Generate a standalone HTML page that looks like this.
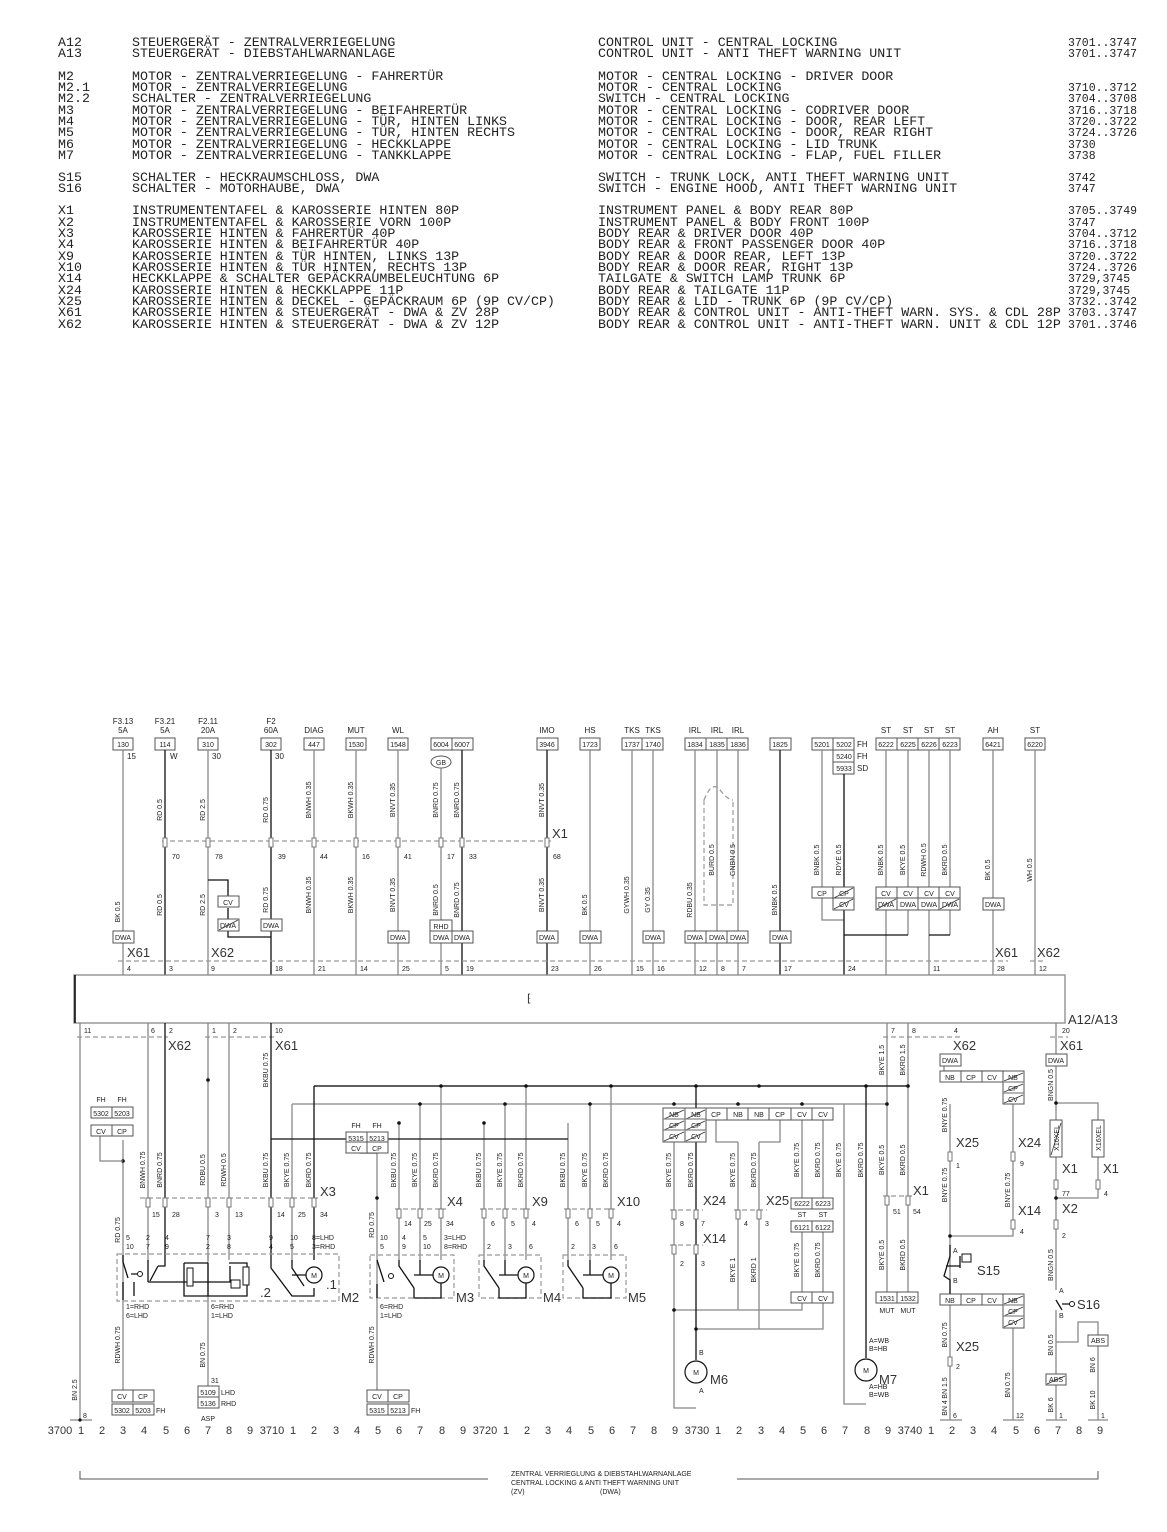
<!DOCTYPE html>
<html><head><meta charset="utf-8"><style>
html,body{margin:0;padding:0;background:#fff}
svg{display:block}
text{font-family:"Liberation Sans",sans-serif;font-size:8px;fill:#222}
.lg text{font-family:"Liberation Mono",monospace;font-size:13.3px;fill:#222}
.pg text{font-family:"Liberation Mono",monospace;font-size:11.5px;fill:#222}
.s,.s text{font-size:7px}
.b,.b text{font-size:13px;fill:#333}
.n,.n text{font-size:11px;fill:#333}
.g{stroke:#888;stroke-width:1.3;fill:none}
.k{stroke:#111;stroke-width:1.3;fill:none}
.d{stroke:#999;stroke-width:1.2;fill:none;stroke-dasharray:5 3}
.bx{stroke:#555;stroke-width:1;fill:#fff}
</style></head><body>
<svg width="1167" height="1532" viewBox="0 0 1167 1532" xmlns="http://www.w3.org/2000/svg">
<!-- LEGEND -->
<g class="lg">
<text x="58" y="46">A12</text><text x="132" y="46">STEUERGERÄT - ZENTRALVERRIEGELUNG</text><text x="598" y="46">CONTROL UNIT - CENTRAL LOCKING</text>
<text x="58" y="57">A13</text><text x="132" y="57">STEUERGERÄT - DIEBSTAHLWARNANLAGE</text><text x="598" y="57">CONTROL UNIT - ANTI THEFT WARNING UNIT</text>
<text x="58" y="80">M2</text><text x="132" y="80">MOTOR - ZENTRALVERRIEGELUNG - FAHRERTÜR</text><text x="598" y="80">MOTOR - CENTRAL LOCKING - DRIVER DOOR</text>
<text x="58" y="91">M2.1</text><text x="132" y="91">MOTOR - ZENTRALVERRIEGELUNG</text><text x="598" y="91">MOTOR - CENTRAL LOCKING</text>
<text x="58" y="102">M2.2</text><text x="132" y="102">SCHALTER - ZENTRALVERRIEGELUNG</text><text x="598" y="102">SWITCH - CENTRAL LOCKING</text>
<text x="58" y="114">M3</text><text x="132" y="114">MOTOR - ZENTRALVERRIEGELUNG - BEIFAHRERTÜR</text><text x="598" y="114">MOTOR - CENTRAL LOCKING - CODRIVER DOOR</text>
<text x="58" y="125">M4</text><text x="132" y="125">MOTOR - ZENTRALVERRIEGELUNG - TÜR, HINTEN LINKS</text><text x="598" y="125">MOTOR - CENTRAL LOCKING - DOOR, REAR LEFT</text>
<text x="58" y="136">M5</text><text x="132" y="136">MOTOR - ZENTRALVERRIEGELUNG - TÜR, HINTEN RECHTS</text><text x="598" y="136">MOTOR - CENTRAL LOCKING - DOOR, REAR RIGHT</text>
<text x="58" y="148">M6</text><text x="132" y="148">MOTOR - ZENTRALVERRIEGELUNG - HECKKLAPPE</text><text x="598" y="148">MOTOR - CENTRAL LOCKING - LID TRUNK</text>
<text x="58" y="159">M7</text><text x="132" y="159">MOTOR - ZENTRALVERRIEGELUNG - TANKKLAPPE</text><text x="598" y="159">MOTOR - CENTRAL LOCKING - FLAP, FUEL FILLER</text>
<text x="58" y="181">S15</text><text x="132" y="181">SCHALTER - HECKRAUMSCHLOSS, DWA</text><text x="598" y="181">SWITCH - TRUNK LOCK, ANTI THEFT WARNING UNIT</text>
<text x="58" y="192">S16</text><text x="132" y="192">SCHALTER - MOTORHAUBE, DWA</text><text x="598" y="192">SWITCH - ENGINE HOOD, ANTI THEFT WARNING UNIT</text>
<text x="58" y="214">X1</text><text x="132" y="214">INSTRUMENTENTAFEL &amp; KAROSSERIE HINTEN 80P</text><text x="598" y="214">INSTRUMENT PANEL &amp; BODY REAR 80P</text>
<text x="58" y="226">X2</text><text x="132" y="226">INSTRUMENTENTAFEL &amp; KAROSSERIE VORN 100P</text><text x="598" y="226">INSTRUMENT PANEL &amp; BODY FRONT 100P</text>
<text x="58" y="237">X3</text><text x="132" y="237">KAROSSERIE HINTEN &amp; FAHRERTÜR 40P</text><text x="598" y="237">BODY REAR &amp; DRIVER DOOR 40P</text>
<text x="58" y="248">X4</text><text x="132" y="248">KAROSSERIE HINTEN &amp; BEIFAHRERTÜR 40P</text><text x="598" y="248">BODY REAR &amp; FRONT PASSENGER DOOR 40P</text>
<text x="58" y="260">X9</text><text x="132" y="260">KAROSSERIE HINTEN &amp; TÜR HINTEN, LINKS 13P</text><text x="598" y="260">BODY REAR &amp; DOOR REAR, LEFT 13P</text>
<text x="58" y="271">X10</text><text x="132" y="271">KAROSSERIE HINTEN &amp; TÜR HINTEN, RECHTS 13P</text><text x="598" y="271">BODY REAR &amp; DOOR REAR, RIGHT 13P</text>
<text x="58" y="282">X14</text><text x="132" y="282">HECKKLAPPE &amp; SCHALTER GEPÄCKRAUMBELEUCHTUNG 6P</text><text x="598" y="282">TAILGATE &amp; SWITCH LAMP TRUNK 6P</text>
<text x="58" y="294">X24</text><text x="132" y="294">KAROSSERIE HINTEN &amp; HECKKLAPPE 11P</text><text x="598" y="294">BODY REAR &amp; TAILGATE 11P</text>
<text x="58" y="305">X25</text><text x="132" y="305">KAROSSERIE HINTEN &amp; DECKEL - GEPÄCKRAUM 6P (9P CV/CP)</text><text x="598" y="305">BODY REAR &amp; LID - TRUNK 6P (9P CV/CP)</text>
<text x="58" y="316">X61</text><text x="132" y="316">KAROSSERIE HINTEN &amp; STEUERGERÄT - DWA &amp; ZV 28P</text><text x="598" y="316">BODY REAR &amp; CONTROL UNIT - ANTI-THEFT WARN. SYS. &amp; CDL 28P</text>
<text x="58" y="328">X62</text><text x="132" y="328">KAROSSERIE HINTEN &amp; STEUERGERÄT - DWA &amp; ZV 12P</text><text x="598" y="328">BODY REAR &amp; CONTROL UNIT - ANTI-THEFT WARN. UNIT &amp; CDL 12P</text>
</g>
<g class="pg">
<text x="1068" y="46">3701..3747</text><text x="1068" y="57">3701..3747</text>
<text x="1068" y="91">3710..3712</text><text x="1068" y="102">3704..3708</text><text x="1068" y="114">3716..3718</text><text x="1068" y="125">3720..3722</text><text x="1068" y="136">3724..3726</text><text x="1068" y="148">3730</text><text x="1068" y="159">3738</text>
<text x="1068" y="181">3742</text><text x="1068" y="192">3747</text>
<text x="1068" y="214">3705..3749</text><text x="1068" y="226">3747</text><text x="1068" y="237">3704..3712</text><text x="1068" y="248">3716..3718</text><text x="1068" y="260">3720..3722</text><text x="1068" y="271">3724..3726</text><text x="1068" y="282">3729,3745</text><text x="1068" y="294">3729,3745</text><text x="1068" y="305">3732..3742</text><text x="1068" y="316">3703..3747</text><text x="1068" y="328">3701..3746</text>
</g>

<!-- TOP FUSE LABELS & BOXES -->
<g text-anchor="middle">
<text x="123" y="724">F3.13</text><text x="123" y="733">5A</text>
<text x="165" y="724">F3.21</text><text x="165" y="733">5A</text>
<text x="208" y="724">F2.11</text><text x="208" y="733">20A</text>
<text x="271" y="724">F2</text><text x="271" y="733">60A</text>
<text x="314" y="733">DIAG</text><text x="356" y="733">MUT</text><text x="398" y="733">WL</text><text x="547" y="733">IMO</text>
<text x="590" y="733">HS</text><text x="632" y="733">TKS</text><text x="653" y="733">TKS</text>
<text x="695" y="733">IRL</text><text x="717" y="733">IRL</text><text x="738" y="733">IRL</text>
<text x="886" y="733">ST</text><text x="908" y="733">ST</text><text x="929" y="733">ST</text><text x="950" y="733">ST</text>
<text x="993" y="733">AH</text><text x="1035" y="733">ST</text>
</g>
<g>
<rect class="bx" x="113" y="738" width="20" height="12"/><rect class="bx" x="155" y="738" width="20" height="12"/><rect class="bx" x="198" y="738" width="20" height="12"/><rect class="bx" x="261" y="738" width="20" height="12"/><rect class="bx" x="304" y="738" width="20" height="12"/><rect class="bx" x="346" y="738" width="20" height="12"/><rect class="bx" x="388" y="738" width="20" height="12"/><rect class="bx" x="431" y="738" width="21" height="12"/><rect class="bx" x="452" y="738" width="21" height="12"/><rect class="bx" x="537" y="738" width="21" height="12"/><rect class="bx" x="580" y="738" width="20" height="12"/><rect class="bx" x="622" y="738" width="20" height="12"/><rect class="bx" x="642" y="738" width="21" height="12"/><rect class="bx" x="685" y="738" width="21" height="12"/><rect class="bx" x="706" y="738" width="21" height="12"/><rect class="bx" x="727" y="738" width="21" height="12"/><rect class="bx" x="770" y="738" width="21" height="12"/><rect class="bx" x="812" y="738" width="21" height="12"/><rect class="bx" x="833" y="738" width="21" height="12"/><rect class="bx" x="833" y="750" width="21" height="12"/><rect class="bx" x="833" y="762" width="21" height="12"/><rect class="bx" x="876" y="738" width="21" height="12"/><rect class="bx" x="897" y="738" width="21" height="12"/><rect class="bx" x="918" y="738" width="21" height="12"/><rect class="bx" x="939" y="738" width="21" height="12"/><rect class="bx" x="983" y="738" width="20" height="12"/><rect class="bx" x="1025" y="738" width="20" height="12"/>
</g>
<g text-anchor="middle" class="s">
<text x="123" y="747">130</text><text x="165" y="747">114</text><text x="208" y="747">310</text><text x="271" y="747">302</text><text x="314" y="747">447</text><text x="356" y="747">1530</text><text x="398" y="747">1548</text><text x="441" y="747">6004</text><text x="462" y="747">6007</text><text x="547" y="747">3946</text><text x="590" y="747">1723</text><text x="632" y="747">1737</text><text x="653" y="747">1740</text><text x="695" y="747">1834</text><text x="717" y="747">1835</text><text x="738" y="747">1836</text><text x="780" y="747">1825</text><text x="822" y="747">5201</text><text x="844" y="747">5202</text><text x="844" y="759">5240</text><text x="844" y="771">5933</text><text x="886" y="747">6222</text><text x="908" y="747">6225</text><text x="929" y="747">6226</text><text x="950" y="747">6223</text><text x="993" y="747">6421</text><text x="1035" y="747">6220</text>
</g>
<text x="857" y="747">FH</text><text x="857" y="759">FH</text><text x="857" y="771">SD</text>
<text x="127" y="759">15</text><text x="170" y="759">W</text><text x="212" y="759">30</text><text x="275" y="759">30</text>
<ellipse cx="441" cy="762" rx="10" ry="6" class="bx"/><text x="441" y="765" text-anchor="middle" class="s">GB</text>

<!-- UPPER WIRES -->
<g class="g">
<path d="M123 750V975M208 750V975M314 750V975M356 750V975M398 750V975M441 768V975M590 750V975M632 750V975M653 750V975M695 750V975M717 750V975M738 750V975M822 750V920H844M886 750V975M908 750V935M993 750V975M1035 750V975M929 750V975M950 750V935"/>
</g>
<g class="k">
<path d="M165 750V975M271 750V975M462 750V975M547 750V975M780 750V975M844 774V975M844 935H908M929 935H950M208 880H228V897M228 908V937H271"/>
</g>
<path class="d" d="M704 800V905H733V800M704 800Q712 780 720 790Q728 800 733 800"/>
<path class="d" d="M162 841H552M118 961H1008M1030 961H1045"/>
<text class="b" x="552" y="838">X1</text>
<text class="b" x="127" y="957">X61</text><text class="b" x="211" y="957">X62</text><text class="b" x="995" y="957">X61</text><text class="b" x="1037" y="957">X62</text>
<g fill="#fff" stroke="#777" stroke-width="1">
<rect x="163" y="838" width="4" height="9"/><rect x="206" y="838" width="4" height="9"/><rect x="269" y="838" width="4" height="9"/><rect x="312" y="838" width="4" height="9"/><rect x="354" y="838" width="4" height="9"/><rect x="396" y="838" width="4" height="9"/><rect x="439" y="838" width="4" height="9"/><rect x="460" y="838" width="4" height="9"/><rect x="545" y="838" width="4" height="9"/>
</g>
<g class="s">
<text x="172" y="859">70</text><text x="215" y="859">78</text><text x="278" y="859">39</text><text x="320" y="859">44</text><text x="362" y="859">16</text><text x="404" y="859">41</text><text x="447" y="859">17</text><text x="469" y="859">33</text><text x="553" y="859">68</text>
<text x="127" y="971">4</text><text x="169" y="971">3</text><text x="211" y="971">9</text><text x="275" y="971">18</text><text x="318" y="971">21</text><text x="360" y="971">14</text><text x="402" y="971">25</text><text x="445" y="971">5</text><text x="466" y="971">19</text><text x="551" y="971">23</text><text x="594" y="971">26</text><text x="636" y="971">15</text><text x="657" y="971">16</text><text x="699" y="971">12</text><text x="721" y="971">8</text><text x="742" y="971">7</text><text x="784" y="971">17</text><text x="848" y="971">24</text><text x="933" y="971">11</text><text x="997" y="971">28</text><text x="1039" y="971">12</text>
</g>
<!-- DWA boxes upper -->
<g>
<rect class="bx" x="113" y="931" width="21" height="12"/><rect class="bx" x="388" y="931" width="21" height="12"/><rect class="bx" x="430" y="931" width="22" height="12"/><rect class="bx" x="430" y="920" width="22" height="11"/><rect class="bx" x="452" y="931" width="21" height="12"/><rect class="bx" x="537" y="931" width="21" height="12"/><rect class="bx" x="580" y="931" width="21" height="12"/><rect class="bx" x="643" y="931" width="21" height="12"/><rect class="bx" x="685" y="931" width="21" height="12"/><rect class="bx" x="706" y="931" width="21" height="12"/><rect class="bx" x="727" y="931" width="21" height="12"/><rect class="bx" x="770" y="931" width="21" height="12"/><rect class="bx" x="261" y="919" width="21" height="12"/><rect class="bx" x="218" y="896" width="21" height="11"/><rect class="bx" x="218" y="919" width="21" height="12"/><rect class="bx" x="983" y="898" width="21" height="12"/>
<rect class="bx" x="812" y="887" width="21" height="11"/><rect class="bx" x="833" y="887" width="21" height="11"/><rect class="bx" x="833" y="898" width="21" height="12"/>
<rect class="bx" x="876" y="887" width="21" height="11"/><rect class="bx" x="897" y="887" width="21" height="11"/><rect class="bx" x="918" y="887" width="21" height="11"/><rect class="bx" x="939" y="887" width="21" height="11"/><rect class="bx" x="876" y="898" width="21" height="12"/><rect class="bx" x="897" y="898" width="21" height="12"/><rect class="bx" x="918" y="898" width="21" height="12"/><rect class="bx" x="939" y="898" width="21" height="12"/>
</g>
<g text-anchor="middle" class="s">
<text x="123" y="940">DWA</text><text x="398" y="940">DWA</text><text x="441" y="940">DWA</text><text x="441" y="929">RHD</text><text x="462" y="940">DWA</text><text x="547" y="940">DWA</text><text x="590" y="940">DWA</text><text x="653" y="940">DWA</text><text x="695" y="940">DWA</text><text x="717" y="940">DWA</text><text x="738" y="940">DWA</text><text x="780" y="940">DWA</text><text x="271" y="928">DWA</text><text x="228" y="905">CV</text><text x="228" y="928">DWA</text><text x="993" y="907">DWA</text>
<text x="822" y="896">CP</text><text x="844" y="896">CP</text><text x="844" y="907">CV</text>
<text x="886" y="896">CV</text><text x="908" y="896">CV</text><text x="929" y="896">CV</text><text x="950" y="896">CV</text><text x="886" y="907">DWA</text><text x="908" y="907">DWA</text><text x="929" y="907">DWA</text><text x="950" y="907">DWA</text>
</g>
<path stroke="#333" stroke-width="0.8" d="M219 930L238 920M834 898L853 888M834 909L853 899M877 909L896 899M940 909L959 899"/>
<!-- upper rotated wire labels -->
<g class="s">
<text transform="translate(162,810) rotate(-90)" text-anchor="middle">RD 0.5</text>
<text transform="translate(205,810) rotate(-90)" text-anchor="middle">RD 2.5</text>
<text transform="translate(268,810) rotate(-90)" text-anchor="middle">RD 0.75</text>
<text transform="translate(311,800) rotate(-90)" text-anchor="middle">BNWH 0.35</text>
<text transform="translate(353,800) rotate(-90)" text-anchor="middle">BKWH 0.35</text>
<text transform="translate(395,800) rotate(-90)" text-anchor="middle">BNVT 0.35</text>
<text transform="translate(438,800) rotate(-90)" text-anchor="middle">BNRD 0.75</text>
<text transform="translate(459,800) rotate(-90)" text-anchor="middle">BNRD 0.75</text>
<text transform="translate(544,800) rotate(-90)" text-anchor="middle">BNVT 0.35</text>
<text transform="translate(120,912) rotate(-90)" text-anchor="middle">BK 0.5</text>
<text transform="translate(162,905) rotate(-90)" text-anchor="middle">RD 0.5</text>
<text transform="translate(205,905) rotate(-90)" text-anchor="middle">RD 2.5</text>
<text transform="translate(268,900) rotate(-90)" text-anchor="middle">RD 0.75</text>
<text transform="translate(311,895) rotate(-90)" text-anchor="middle">BNWH 0.35</text>
<text transform="translate(353,895) rotate(-90)" text-anchor="middle">BKWH 0.35</text>
<text transform="translate(395,895) rotate(-90)" text-anchor="middle">BNVT 0.35</text>
<text transform="translate(438,900) rotate(-90)" text-anchor="middle">BNRD 0.5</text>
<text transform="translate(459,900) rotate(-90)" text-anchor="middle">BNRD 0.75</text>
<text transform="translate(544,895) rotate(-90)" text-anchor="middle">BNVT 0.35</text>
<text transform="translate(587,905) rotate(-90)" text-anchor="middle">BK 0.5</text>
<text transform="translate(629,895) rotate(-90)" text-anchor="middle">GYWH 0.35</text>
<text transform="translate(650,900) rotate(-90)" text-anchor="middle">GY 0.35</text>
<text transform="translate(692,900) rotate(-90)" text-anchor="middle">RDBU 0.35</text>
<text transform="translate(714,860) rotate(-90)" text-anchor="middle">BURD 0.5</text>
<text transform="translate(735,860) rotate(-90)" text-anchor="middle">GNBN 0.5</text>
<text transform="translate(777,900) rotate(-90)" text-anchor="middle">BNBK 0.5</text>
<text transform="translate(819,860) rotate(-90)" text-anchor="middle">BNBK 0.5</text>
<text transform="translate(841,860) rotate(-90)" text-anchor="middle">RDYE 0.5</text>
<text transform="translate(883,860) rotate(-90)" text-anchor="middle">BNBK 0.5</text>
<text transform="translate(905,860) rotate(-90)" text-anchor="middle">BKYE 0.5</text>
<text transform="translate(926,860) rotate(-90)" text-anchor="middle">RDWH 0.5</text>
<text transform="translate(947,860) rotate(-90)" text-anchor="middle">BKRD 0.5</text>
<text transform="translate(990,870) rotate(-90)" text-anchor="middle">BK 0.5</text>
<text transform="translate(1032,870) rotate(-90)" text-anchor="middle">WH 0.5</text>
</g>

<!-- MODULE -->
<rect x="74" y="975" width="991" height="48" fill="#fff" stroke="#888" stroke-width="1.3"/>
<path d="M75 975V1023" stroke="#111" stroke-width="1.6"/>
<text x="527" y="1002" class="n">⁅</text>
<text class="b" x="1068" y="1024">A12/A13</text>

<!-- LOWER -->
<path class="d" d="M77 1037H168M205 1037H275M883 1037H960M1050 1037H1068"/>
<text class="b" x="168" y="1050">X62</text><text class="b" x="275" y="1050">X61</text><text class="b" x="953" y="1050">X62</text><text class="b" x="1060" y="1050">X61</text>
<g class="s"><text x="84" y="1033">11</text><text x="151" y="1033">6</text><text x="169" y="1033">2</text><text x="212" y="1033">1</text><text x="233" y="1033">2</text><text x="275" y="1033">10</text><text x="891" y="1033">7</text><text x="912" y="1033">8</text><text x="954" y="1033">4</text><text x="1062" y="1033">20</text></g>
<g class="g">
<path d="M80 1023V1420M148 1023V1260M208 1023V1260M229 1023V1260M123 1140V1255M314 1086H908M292 1104H887M292 1104V1260M399 1123V1260M420 1104V1260M441 1086V1260M484 1123V1260M505 1104V1260M526 1086V1260M568 1123V1260M590 1104V1260M611 1086V1260"/>
<path d="M123 1255V1390M208 1255V1387M377 1255V1390M377 1153V1255"/>
<path d="M674 1120V1408H696M738 1142V1310M759 1142V1329M802 1120V1198M823 1120V1198M802 1232V1292M823 1232V1292M844 1104V1404H866M887 1023V1292M908 1023V1292M716 1120V1142H738M759 1142H780V1120M674 1310H802V1302M696 1329H823V1302"/>
<path d="M950 1104V1294M1013 1104V1236H950M1013 1328V1420M950 1305V1420M1056 1023V1120M1056 1157V1290M1056 1310V1420M1056 1103H1098V1120M1098 1157V1198H1056M1056 1342H1078V1322H1098V1335M1098 1346V1420M944 1071V1062M1004 1071H944"/>
</g>
<g class="k">
<path d="M165 1023V1260M271 1023V1139H568M271 1139V1260M314 1086V1260M696 1086V1360M866 1086V1358M314 1086H908"/>
<path d="M377 1153H360V1142"/>
</g>
<g fill="#111">
<circle cx="441" cy="1086" r="1.8"/><circle cx="526" cy="1086" r="1.8"/><circle cx="611" cy="1086" r="1.8"/><circle cx="696" cy="1086" r="1.8"/><circle cx="759" cy="1086" r="1.8"/><circle cx="866" cy="1086" r="1.8"/><circle cx="908" cy="1086" r="1.8"/>
<circle cx="420" cy="1104" r="1.8"/><circle cx="505" cy="1104" r="1.8"/><circle cx="590" cy="1104" r="1.8"/><circle cx="674" cy="1104" r="1.8"/><circle cx="738" cy="1104" r="1.8"/><circle cx="802" cy="1104" r="1.8"/><circle cx="887" cy="1104" r="1.8"/>
<circle cx="399" cy="1123" r="1.8"/><circle cx="484" cy="1123" r="1.8"/><circle cx="123" cy="1161" r="1.8"/><circle cx="377" cy="1198" r="1.8"/><circle cx="208" cy="1080" r="1.8"/>
<circle cx="674" cy="1310" r="1.8"/><circle cx="696" cy="1329" r="1.8"/><circle cx="950" cy="1236" r="1.8"/><circle cx="1056" cy="1103" r="1.8"/><circle cx="1056" cy="1198" r="1.8"/>
</g>
<path class="g" d="M100 1136V1161H123"/>
<path class="d" d="M140 1198H318M395 1209H446M480 1209H530M564 1209H615M670 1210H703M734 1210H767M670 1245H703M883 1196H912"/>
<text class="b" x="320" y="1196">X3</text><text class="b" x="447" y="1206">X4</text><text class="b" x="532" y="1206">X9</text><text class="b" x="617" y="1206">X10</text><text class="b" x="703" y="1205">X24</text><text class="b" x="766" y="1205">X25</text><text class="b" x="703" y="1243">X14</text><text class="b" x="913" y="1195">X1</text>
<text class="b" x="956" y="1147">X25</text><text class="b" x="1018" y="1147">X24</text><text class="b" x="1018" y="1215">X14</text><text class="b" x="956" y="1351">X25</text><text class="b" x="1062" y="1173">X1</text><text class="b" x="1103" y="1173">X1</text><text class="b" x="1062" y="1213">X2</text>
<g fill="#fff" stroke="#777" stroke-width="1">
<rect x="146" y="1198" width="4" height="9"/><rect x="163" y="1198" width="4" height="9"/><rect x="206" y="1198" width="4" height="9"/><rect x="227" y="1198" width="4" height="9"/><rect x="269" y="1198" width="4" height="9"/><rect x="290" y="1198" width="4" height="9"/><rect x="312" y="1198" width="4" height="9"/>
<rect x="397" y="1209" width="4" height="9"/><rect x="418" y="1209" width="4" height="9"/><rect x="439" y="1209" width="4" height="9"/><rect x="482" y="1209" width="4" height="9"/><rect x="503" y="1209" width="4" height="9"/><rect x="524" y="1209" width="4" height="9"/><rect x="566" y="1209" width="4" height="9"/><rect x="588" y="1209" width="4" height="9"/><rect x="609" y="1209" width="4" height="9"/>
<rect x="672" y="1210" width="4" height="9"/><rect x="694" y="1210" width="4" height="9"/><rect x="736" y="1210" width="4" height="9"/><rect x="757" y="1210" width="4" height="9"/><rect x="672" y="1245" width="4" height="9"/><rect x="694" y="1245" width="4" height="9"/><rect x="885" y="1196" width="4" height="9"/><rect x="906" y="1196" width="4" height="9"/>
<rect x="948" y="1152" width="4" height="9"/><rect x="1011" y="1152" width="4" height="9"/><rect x="1011" y="1220" width="4" height="9"/><rect x="948" y="1357" width="4" height="9"/><rect x="1054" y="1180" width="4" height="9"/><rect x="1096" y="1180" width="4" height="9"/><rect x="1054" y="1220" width="4" height="9"/>
</g>
<g class="s">
<text x="152" y="1217">15</text><text x="172" y="1217">28</text><text x="215" y="1217">3</text><text x="235" y="1217">13</text><text x="277" y="1217">14</text><text x="298" y="1217">25</text><text x="320" y="1217">34</text>
<text x="404" y="1226">14</text><text x="424" y="1226">25</text><text x="446" y="1226">34</text><text x="491" y="1226">6</text><text x="511" y="1226">5</text><text x="532" y="1226">4</text><text x="575" y="1226">6</text><text x="596" y="1226">5</text><text x="617" y="1226">4</text>
<text x="680" y="1226">8</text><text x="701" y="1226">7</text><text x="744" y="1226">4</text><text x="765" y="1226">3</text><text x="680" y="1266">2</text><text x="701" y="1266">3</text><text x="893" y="1214">51</text><text x="913" y="1214">54</text>
<text x="956" y="1168">1</text><text x="1020" y="1166">9</text><text x="1020" y="1234">4</text><text x="956" y="1369">2</text><text x="1062" y="1196">77</text><text x="1104" y="1196">4</text><text x="1062" y="1238">2</text>
<text x="126" y="1240">5</text><text x="126" y="1249">10</text><text x="146" y="1240">2</text><text x="146" y="1249">7</text><text x="165" y="1240">4</text><text x="165" y="1249">9</text><text x="206" y="1240">7</text><text x="206" y="1249">2</text><text x="227" y="1240">3</text><text x="227" y="1249">8</text><text x="269" y="1240">9</text><text x="269" y="1249">4</text><text x="290" y="1240">10</text><text x="290" y="1249">5</text><text x="312" y="1240">8=LHD</text><text x="312" y="1249">3=RHD</text>
<text x="380" y="1240">10</text><text x="380" y="1249">5</text><text x="402" y="1240">4</text><text x="402" y="1249">9</text><text x="423" y="1240">5</text><text x="423" y="1249">10</text><text x="444" y="1240">3=LHD</text><text x="444" y="1249">8=RHD</text>
<text x="487" y="1249">2</text><text x="508" y="1249">3</text><text x="529" y="1249">6</text><text x="571" y="1249">2</text><text x="592" y="1249">3</text><text x="614" y="1249">6</text>
<text x="126" y="1309">1=RHD</text><text x="126" y="1318">6=LHD</text><text x="211" y="1309">6=RHD</text><text x="211" y="1318">1=LHD</text><text x="380" y="1309">6=RHD</text><text x="380" y="1318">1=LHD</text>
<text x="211" y="1383">31</text><text x="699" y="1355">B</text><text x="699" y="1393">A</text><text x="869" y="1343">A=WB</text><text x="869" y="1351">B=HB</text><text x="869" y="1389">A=HB</text><text x="869" y="1397">B=WB</text><text x="953" y="1253">A</text><text x="953" y="1283">B</text><text x="1059" y="1293">A</text><text x="1059" y="1318">B</text>
<text x="83" y="1418">8</text><text x="953" y="1418">6</text><text x="1016" y="1418">12</text><text x="1059" y="1418">1</text><text x="1101" y="1418">1</text>
</g>
<path class="d" d="M117 1254H339V1301H117ZM370 1255H454V1298H370ZM479 1255H541V1298H479ZM563 1255H626V1298H563Z"/>
<text class="b" x="341" y="1302">M2</text><text class="b" x="456" y="1302">M3</text><text class="b" x="543" y="1302">M4</text><text class="b" x="628" y="1302">M5</text>
<text class="b" x="260" y="1297">.2</text><text class="b" x="326" y="1289">.1</text>
<g class="k" stroke-width="1">
<path d="M123 1255V1262L128 1278M123 1282V1300M131 1274H137M165 1260V1266H158M150 1281L158 1266M148 1260V1282M148 1282H230V1266M134 1282V1296"/>
<path d="M184 1263H208M208 1263V1296M229 1263H247V1296H184V1263M292 1260V1268L304 1286M271 1260V1268L292 1296H314V1288"/>
</g>
<circle cx="140" cy="1274" r="2.5" fill="#fff" stroke="#111"/>
<rect x="187" y="1268" width="6" height="18" fill="#fff" stroke="#111"/><rect x="243" y="1267" width="6" height="18" fill="#fff" stroke="#111"/>
<rect x="231" y="1280" width="9" height="8" fill="#fff" stroke="#111"/>
<g fill="#fff" stroke="#111" stroke-width="1.2">
<circle cx="314" cy="1275" r="8"/><circle cx="441" cy="1275" r="8"/><circle cx="526" cy="1275" r="8"/><circle cx="611" cy="1275" r="8"/><circle cx="696" cy="1372" r="11"/><circle cx="866" cy="1370" r="11"/>
</g>
<g text-anchor="middle" class="s"><text x="314" y="1278">M</text><text x="441" y="1278">M</text><text x="526" y="1278">M</text><text x="611" y="1278">M</text><text x="696" y="1375">M</text><text x="866" y="1373">M</text></g>
<text class="b" x="710" y="1384">M6</text><text class="b" x="879" y="1384">M7</text>
<g class="k" stroke-width="1"><path d="M377 1260L384 1282M377 1284V1298M388 1276H394M399 1260V1266L414 1288M414 1275H433M420 1260V1275M441 1283V1298H414V1288M484 1260V1266L499 1288M499 1275H518M505 1260V1275M526 1283V1298H499V1288M568 1260V1266L583 1288M583 1275H603M590 1260V1275M611 1283V1298H583V1288M292 1275H306"/></g>
<circle cx="391" cy="1276" r="2.5" fill="#fff" stroke="#111"/>
<path class="k" stroke-width="1" d="M950 1245V1256L944 1276L950 1280V1294M946 1266H960M960 1256V1268M1056 1300L1062 1310M1062 1304H1070"/>
<rect x="962" y="1254" width="9" height="8" fill="#fff" stroke="#111"/><circle cx="1072" cy="1304" r="2.5" fill="#fff" stroke="#111"/>
<text class="b" x="977" y="1275">S15</text><text class="b" x="1077" y="1309">S16</text>

<g>
<rect class="bx" x="91" y="1107" width="21" height="11"/><rect class="bx" x="112" y="1107" width="21" height="11"/><rect class="bx" x="91" y="1125" width="21" height="11"/><rect class="bx" x="112" y="1125" width="21" height="11"/>
<rect class="bx" x="346" y="1132" width="21" height="11"/><rect class="bx" x="367" y="1132" width="21" height="11"/><rect class="bx" x="346" y="1142" width="21" height="11"/><rect class="bx" x="367" y="1142" width="21" height="11"/>
<rect class="bx" x="112" y="1390" width="21" height="12"/><rect class="bx" x="133" y="1390" width="21" height="12"/><rect class="bx" x="112" y="1404" width="21" height="11"/><rect class="bx" x="133" y="1404" width="21" height="11"/>
<rect class="bx" x="198" y="1386" width="21" height="11"/><rect class="bx" x="198" y="1397" width="21" height="11"/>
<rect class="bx" x="367" y="1390" width="21" height="12"/><rect class="bx" x="388" y="1390" width="21" height="12"/><rect class="bx" x="367" y="1404" width="21" height="11"/><rect class="bx" x="388" y="1404" width="21" height="11"/>
<rect class="bx" x="663" y="1108" width="22" height="34"/><rect class="bx" x="685" y="1108" width="21" height="34"/><rect class="bx" x="706" y="1108" width="21" height="12"/><rect class="bx" x="727" y="1108" width="21" height="12"/><rect class="bx" x="748" y="1108" width="21" height="12"/><rect class="bx" x="769" y="1108" width="22" height="12"/><rect class="bx" x="791" y="1108" width="21" height="12"/><rect class="bx" x="812" y="1108" width="21" height="12"/>
<rect class="bx" x="791" y="1198" width="21" height="11"/><rect class="bx" x="812" y="1198" width="21" height="11"/><rect class="bx" x="791" y="1221" width="21" height="11"/><rect class="bx" x="812" y="1221" width="21" height="11"/><rect class="bx" x="791" y="1292" width="21" height="11"/><rect class="bx" x="812" y="1292" width="21" height="11"/>
<rect class="bx" x="876" y="1292" width="21" height="11"/><rect class="bx" x="897" y="1292" width="21" height="11"/>
<rect class="bx" x="940" y="1054" width="21" height="12"/><rect class="bx" x="1046" y="1054" width="21" height="12"/>
<rect class="bx" x="940" y="1071" width="21" height="11"/><rect class="bx" x="961" y="1071" width="21" height="11"/><rect class="bx" x="982" y="1071" width="21" height="11"/><rect class="bx" x="1003" y="1071" width="21" height="33"/>
<rect class="bx" x="940" y="1294" width="21" height="11"/><rect class="bx" x="961" y="1294" width="21" height="11"/><rect class="bx" x="982" y="1294" width="21" height="11"/><rect class="bx" x="1003" y="1294" width="21" height="34"/>
<rect class="bx" x="1050" y="1120" width="12" height="37"/><rect class="bx" x="1092" y="1120" width="12" height="37"/>
<rect class="bx" x="1088" y="1335" width="20" height="11"/><rect class="bx" x="1046" y="1374" width="20" height="11"/>
</g>
<path stroke="#333" stroke-width="0.8" d="M664 1119L684 1110M664 1130L684 1121M664 1141L684 1132M686 1119L705 1110M686 1130L705 1121M686 1141L705 1132M1004 1081L1023 1073M1004 1092L1023 1084M1004 1103L1023 1095M1004 1304L1023 1296M1004 1316L1023 1307M1004 1327L1023 1318M1051 1155L1061 1123M1047 1384L1065 1376"/>
<path class="g" d="M663 1119H706M663 1130H706M1003 1082H1024M1003 1093H1024M1003 1305H1024M1003 1316H1024"/>
<g text-anchor="middle" class="s">
<text x="101" y="1102">FH</text><text x="122" y="1102">FH</text><text x="101" y="1116">5302</text><text x="122" y="1116">5203</text><text x="101" y="1134">CV</text><text x="122" y="1134">CP</text>
<text x="356" y="1128">FH</text><text x="377" y="1128">FH</text><text x="356" y="1141">5315</text><text x="377" y="1141">5213</text><text x="356" y="1151">CV</text><text x="377" y="1151">CP</text>
<text x="122" y="1399">CV</text><text x="143" y="1399">CP</text><text x="122" y="1413">5302</text><text x="143" y="1413">5203</text>
<text x="208" y="1395">5109</text><text x="208" y="1406">5136</text><text x="208" y="1421">ASP</text>
<text x="377" y="1399">CV</text><text x="398" y="1399">CP</text><text x="377" y="1413">5315</text><text x="398" y="1413">5213</text>
<text x="674" y="1117">NB</text><text x="696" y="1117">NB</text><text x="674" y="1128">CP</text><text x="696" y="1128">CP</text><text x="674" y="1139">CV</text><text x="696" y="1139">CV</text>
<text x="716" y="1117">CP</text><text x="738" y="1117">NB</text><text x="759" y="1117">NB</text><text x="780" y="1117">CP</text><text x="802" y="1117">CV</text><text x="823" y="1117">CV</text>
<text x="802" y="1206">6222</text><text x="823" y="1206">6223</text><text x="802" y="1217">ST</text><text x="823" y="1217">ST</text><text x="802" y="1230">6121</text><text x="823" y="1230">6122</text><text x="802" y="1301">CV</text><text x="823" y="1301">CV</text>
<text x="887" y="1301">1531</text><text x="908" y="1301">1532</text><text x="887" y="1313">MUT</text><text x="908" y="1313">MUT</text>
<text x="950" y="1063">DWA</text><text x="1056" y="1063">DWA</text>
<text x="950" y="1080">NB</text><text x="971" y="1080">CP</text><text x="992" y="1080">CV</text><text x="1013" y="1080">NB</text><text x="1013" y="1091">CP</text><text x="1013" y="1102">CV</text>
<text x="950" y="1303">NB</text><text x="971" y="1303">CP</text><text x="992" y="1303">CV</text><text x="1013" y="1303">NB</text><text x="1013" y="1314">CP</text><text x="1013" y="1325">CV</text>
<text x="1098" y="1343">ABS</text><text x="1056" y="1382">ABS</text>
</g>
<text x="156" y="1413" class="s">FH</text><text x="221" y="1395" class="s">LHD</text><text x="221" y="1406" class="s">RHD</text><text x="411" y="1413" class="s">FH</text>
<g class="s">
<text transform="translate(1059,1138) rotate(-90)" text-anchor="middle">X16XEL</text>
<text transform="translate(1101,1138) rotate(-90)" text-anchor="middle">X16XEL</text>
</g>
<g class="s">
<text transform="translate(77,1390) rotate(-90)" text-anchor="middle">BN 2.5</text>
<text transform="translate(120,1230) rotate(-90)" text-anchor="middle">RD 0.75</text>
<text transform="translate(120,1345) rotate(-90)" text-anchor="middle">RDWH 0.75</text>
<text transform="translate(145,1170) rotate(-90)" text-anchor="middle">BNWH 0.75</text>
<text transform="translate(162,1170) rotate(-90)" text-anchor="middle">BNRD 0.75</text>
<text transform="translate(205,1170) rotate(-90)" text-anchor="middle">RDBU 0.5</text>
<text transform="translate(226,1170) rotate(-90)" text-anchor="middle">RDWH 0.5</text>
<text transform="translate(268,1070) rotate(-90)" text-anchor="middle">BKBU 0.75</text>
<text transform="translate(268,1170) rotate(-90)" text-anchor="middle">BKBU 0.75</text>
<text transform="translate(289,1170) rotate(-90)" text-anchor="middle">BKYE 0.75</text>
<text transform="translate(311,1170) rotate(-90)" text-anchor="middle">BKRD 0.75</text>
<text transform="translate(205,1355) rotate(-90)" text-anchor="middle">BN 0.75</text>
<text transform="translate(374,1225) rotate(-90)" text-anchor="middle">RD 0.75</text>
<text transform="translate(374,1345) rotate(-90)" text-anchor="middle">RDWH 0.75</text>
<text transform="translate(396,1170) rotate(-90)" text-anchor="middle">BKBU 0.75</text>
<text transform="translate(417,1170) rotate(-90)" text-anchor="middle">BKYE 0.75</text>
<text transform="translate(438,1170) rotate(-90)" text-anchor="middle">BKRD 0.75</text>
<text transform="translate(481,1170) rotate(-90)" text-anchor="middle">BKBU 0.75</text>
<text transform="translate(502,1170) rotate(-90)" text-anchor="middle">BKYE 0.75</text>
<text transform="translate(523,1170) rotate(-90)" text-anchor="middle">BKRD 0.75</text>
<text transform="translate(565,1170) rotate(-90)" text-anchor="middle">BKBU 0.75</text>
<text transform="translate(587,1170) rotate(-90)" text-anchor="middle">BKYE 0.75</text>
<text transform="translate(608,1170) rotate(-90)" text-anchor="middle">BKRD 0.75</text>
<text transform="translate(671,1170) rotate(-90)" text-anchor="middle">BKYE 0.75</text>
<text transform="translate(693,1170) rotate(-90)" text-anchor="middle">BKRD 0.75</text>
<text transform="translate(735,1170) rotate(-90)" text-anchor="middle">BKYE 0.75</text>
<text transform="translate(756,1170) rotate(-90)" text-anchor="middle">BKRD 0.75</text>
<text transform="translate(735,1270) rotate(-90)" text-anchor="middle">BKYE 1</text>
<text transform="translate(756,1270) rotate(-90)" text-anchor="middle">BKRD 1</text>
<text transform="translate(799,1160) rotate(-90)" text-anchor="middle">BKYE 0.75</text>
<text transform="translate(820,1160) rotate(-90)" text-anchor="middle">BKRD 0.75</text>
<text transform="translate(799,1260) rotate(-90)" text-anchor="middle">BKYE 0.75</text>
<text transform="translate(820,1260) rotate(-90)" text-anchor="middle">BKRD 0.75</text>
<text transform="translate(841,1160) rotate(-90)" text-anchor="middle">BKYE 0.75</text>
<text transform="translate(863,1160) rotate(-90)" text-anchor="middle">BKRD 0.75</text>
<text transform="translate(884,1060) rotate(-90)" text-anchor="middle">BKYE 1.5</text>
<text transform="translate(905,1060) rotate(-90)" text-anchor="middle">BKRD 1.5</text>
<text transform="translate(884,1160) rotate(-90)" text-anchor="middle">BKYE 0.5</text>
<text transform="translate(905,1160) rotate(-90)" text-anchor="middle">BKRD 0.5</text>
<text transform="translate(884,1255) rotate(-90)" text-anchor="middle">BKYE 0.5</text>
<text transform="translate(905,1255) rotate(-90)" text-anchor="middle">BKRD 0.5</text>
<text transform="translate(947,1115) rotate(-90)" text-anchor="middle">BNYE 0.75</text>
<text transform="translate(947,1185) rotate(-90)" text-anchor="middle">BNYE 0.75</text>
<text transform="translate(1010,1190) rotate(-90)" text-anchor="middle">BNYE 0.75</text>
<text transform="translate(947,1335) rotate(-90)" text-anchor="middle">BN 0.75</text>
<text transform="translate(947,1388) rotate(-90)" text-anchor="middle">BN 1.5</text>
<text transform="translate(947,1408) rotate(-90)" text-anchor="middle">BN 4</text>
<text transform="translate(1010,1385) rotate(-90)" text-anchor="middle">BN 0.75</text>
<text transform="translate(1053,1085) rotate(-90)" text-anchor="middle">BNGN 0.5</text>
<text transform="translate(1053,1265) rotate(-90)" text-anchor="middle">BNGN 0.5</text>
<text transform="translate(1053,1345) rotate(-90)" text-anchor="middle">BN 0.5</text>
<text transform="translate(1053,1405) rotate(-90)" text-anchor="middle">BK 6</text>
<text transform="translate(1095,1365) rotate(-90)" text-anchor="middle">BN 6</text>
<text transform="translate(1095,1400) rotate(-90)" text-anchor="middle">BK 10</text>
</g>
<path class="g" d="M70 1420H92M940 1420H962M1003 1420H1024M1046 1420H1067M1088 1420H1108"/>
<circle cx="80" cy="1420" r="1.6" fill="#111"/>

<g class="n" text-anchor="middle">
<text x="60" y="1434">3700</text>
<text x="81" y="1434">1</text><text x="102" y="1434">2</text><text x="123" y="1434">3</text><text x="144" y="1434">4</text><text x="166" y="1434">5</text><text x="187" y="1434">6</text><text x="208" y="1434">7</text><text x="229" y="1434">8</text><text x="250" y="1434">9</text><text x="272" y="1434">3710</text>
<text x="293" y="1434">1</text><text x="314" y="1434">2</text><text x="336" y="1434">3</text><text x="357" y="1434">4</text><text x="378" y="1434">5</text><text x="399" y="1434">6</text><text x="420" y="1434">7</text><text x="442" y="1434">8</text><text x="463" y="1434">9</text><text x="485" y="1434">3720</text>
<text x="506" y="1434">1</text><text x="527" y="1434">2</text><text x="548" y="1434">3</text><text x="569" y="1434">4</text><text x="591" y="1434">5</text><text x="612" y="1434">6</text><text x="633" y="1434">7</text><text x="654" y="1434">8</text><text x="675" y="1434">9</text><text x="697" y="1434">3730</text>
<text x="718" y="1434">1</text><text x="739" y="1434">2</text><text x="761" y="1434">3</text><text x="782" y="1434">4</text><text x="803" y="1434">5</text><text x="824" y="1434">6</text><text x="845" y="1434">7</text><text x="867" y="1434">8</text><text x="888" y="1434">9</text><text x="910" y="1434">3740</text>
<text x="931" y="1434">1</text><text x="952" y="1434">2</text><text x="973" y="1434">3</text><text x="994" y="1434">4</text><text x="1016" y="1434">5</text><text x="1037" y="1434">6</text><text x="1058" y="1434">7</text><text x="1079" y="1434">8</text><text x="1100" y="1434">9</text>
</g>
<path d="M80 1471V1479H488M737 1479H1098V1471" stroke="#555" stroke-width="1" fill="none"/>
<g class="s"><text x="511" y="1476">ZENTRAL VERRIEGLUNG &amp; DIEBSTAHLWARNANLAGE</text><text x="511" y="1485">CENTRAL LOCKING &amp; ANTI THEFT WARNING UNIT</text><text x="511" y="1494">(ZV)</text><text x="600" y="1494">(DWA)</text></g>
</svg>
</body></html>
